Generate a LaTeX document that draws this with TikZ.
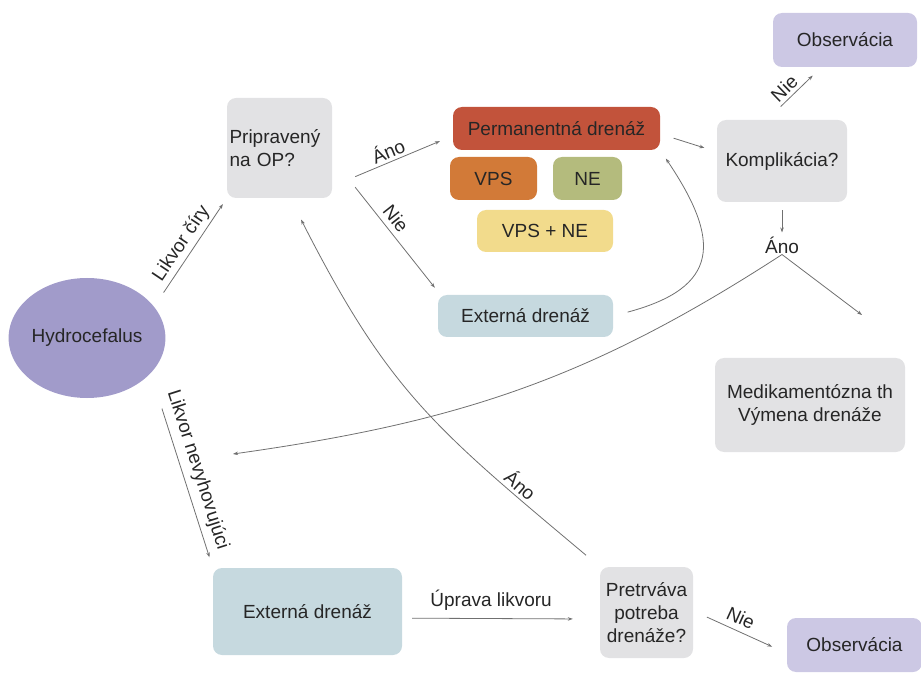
\documentclass[tikz,border=0pt]{standalone}
\usepackage{fontspec}
\setmainfont{Liberation Sans}
\usetikzlibrary{arrows.meta,shapes.geometric}

\definecolor{boxgray}{HTML}{E2E2E4}
\definecolor{hydrofill}{HTML}{A19BCA}
\definecolor{obsfill}{HTML}{CCC8E4}
\definecolor{permfill}{HTML}{C2533B}
\definecolor{vpsfill}{HTML}{D27A38}
\definecolor{nefill}{HTML}{B4BB7D}
\definecolor{vpsnefill}{HTML}{F2DB8C}
\definecolor{extfill}{HTML}{C6D9DF}
\definecolor{linegray}{HTML}{707070}
\definecolor{txtdark}{HTML}{262626}

\begin{document}
\begin{tikzpicture}
        [x=1pt,y=1pt,
         every node/.style={font=\fontsize{19}{23}\selectfont,text=txtdark},
         box/.style={rectangle,rounded corners=9pt,inner sep=0pt,align=center},
         link/.style={draw=linegray,line width=0.8pt,-{Stealth[length=5pt,width=3.5pt]}},
         lab/.style={sloped,above,inner sep=3pt}]
        \useasboundingbox (0,0) rectangle (921,673);

        % nodes
        \node[ellipse,fill=hydrofill,minimum width=137pt,minimum height=120pt,inner sep=0pt] (hydro) at (87,335) {Hydrocefalus};
        \node[box,fill=boxgray,minimum width=105pt,minimum height=100pt,text width=100pt,align=left] (prep) at (279.5,525) {Pripravený\\na OP?};
        \node[box,fill=permfill,minimum width=207pt,minimum height=43pt] (perm) at (556.5,544.5) {Permanentná drenáž};
        \node[box,fill=vpsfill,minimum width=87pt,minimum height=43pt] (vps) at (493.5,494.5) {VPS};
        \node[box,fill=nefill,minimum width=69pt,minimum height=43pt] (ne) at (587.5,494.5) {NE};
        \node[box,fill=vpsnefill,minimum width=136pt,minimum height=42pt] (vpsne) at (545,442) {VPS + NE};
        \node[box,fill=boxgray,minimum width=130pt,minimum height=82pt] (komp) at (782,512) {Komplikácia?};
        \node[box,fill=obsfill,minimum width=144pt,minimum height=54pt] (obsup) at (845,633) {Observácia};
        \node[inner sep=1pt] (ano) at (782,428) {Áno};
        \node[box,fill=boxgray,minimum width=190pt,minimum height=94pt] (med) at (810,268) {Medikamentózna th\\Výmena drenáže};
        \node[box,fill=extfill,minimum width=175pt,minimum height=42pt] (extup) at (525.5,357) {Externá drenáž};
        \node[box,fill=extfill,minimum width=189pt,minimum height=87pt] (extlow) at (307.5,61.5) {Externá drenáž};
        \node[box,fill=boxgray,minimum width=93pt,minimum height=91pt] (pret) at (646.5,60.5) {Pretrváva\\potreba\\drenáže?};
        \node[box,fill=obsfill,minimum width=135pt,minimum height=54pt] (obslow) at (854.5,28) {Observácia};
        \coordinate (anoend) at (862,358);
        \coordinate (backend) at (233,219);

        % connectors
        \draw[link,shorten <=17pt,shorten >=7pt] (hydro.25) -- node[lab,pos=.52] {Likvor číry} (prep.south west);
        \draw[link,shorten <=25pt,shorten >=14pt] (prep.-36) -- node[lab] {Áno} (perm.184.5);
        \draw[link,shorten <=37pt,shorten >=9pt] (prep.-11) -- node[lab,pos=.5,inner sep=5pt] {Nie} (extup.166);
        \draw[link,shorten <=14pt,shorten >=13pt] (perm.-3) -- (komp.172);
        \draw[link,shorten <=19pt,shorten >=12pt] (komp.110.6) -- node[lab,pos=.45] {Nie} (obsup.-131.3);
        \draw[link,shorten <=8pt,shorten >=3pt] (komp.south) -- (ano.north);
        \draw[link] (ano.south) -- (anoend);
        \draw[link] (ano.south) to[out=213,in=8] (backend);
        \draw[link,shorten <=15pt,shorten >=10pt] (extup.east) .. controls +(15:110) and +(-56:110) .. (perm.south east);
        \draw[link,shorten <=37pt,shorten >=11pt] (hydro.-29) -- node[lab,pos=.52,inner sep=6pt] {Likvor nevyhovujúci} (extlow.north west);
        \draw[link,shorten <=10pt,shorten >=27pt] (extlow.-4.5) -- node[above,inner sep=8pt,pos=.45] {Úprava likvoru} (pret.188);
        \draw[link,shorten <=15pt,shorten >=16pt] (pret.2.5) -- node[lab,pos=.45,inner sep=6pt] {Nie} (obslow.187.5);
        \draw[link,shorten <=18pt,shorten >=24pt] (pret.north west) to[out=140,in=-63,looseness=1.15] node[lab,pos=.2] {Áno} (prep.-78);

      \end{tikzpicture}
\end{document}
